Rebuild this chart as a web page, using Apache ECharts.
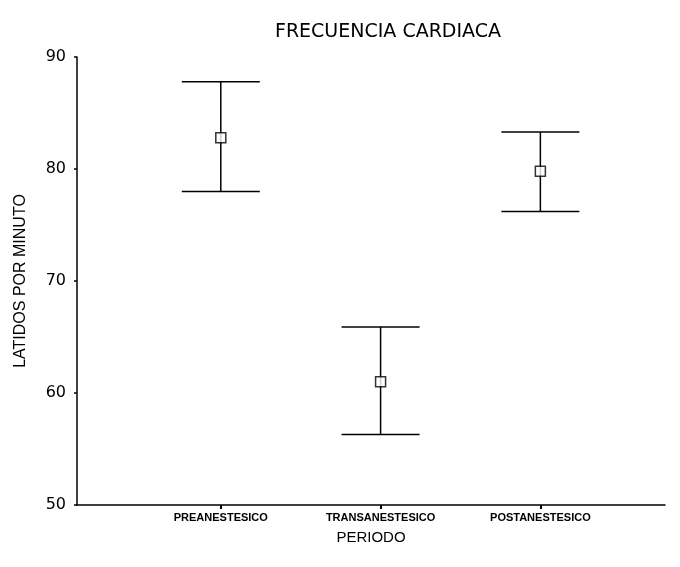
<!DOCTYPE html>
<html>
<head>
<meta charset="utf-8">
<script src="https://cdn.jsdelivr.net/npm/echarts@6/dist/echarts.min.js"></script>
<style>
  html, body { margin: 0; padding: 0; background: #fff; }
  #chart { width: 680px; height: 567px; }
</style>
</head>
<body>
<div id="chart"></div>
<script>
// periodos y valores
const categories = ['PREANESTESICO', 'TRANSANESTESICO', 'POSTANESTESICO']
const meanValues = [82.8, 61.0, 79.8]
const lowerValues = [78.0, 56.3, 76.2]
const upperValues = [87.8, 65.9, 83.3]
const yTicks = [50, 60, 70, 80, 90]

const font = 'Liberation Sans, Arial, sans-serif'
const wideFont = 'DejaVu Sans, sans-serif'

const chart = echarts.init(document.getElementById('chart'))

const errorData = categories.map((c, i) => [i + 1, meanValues[i], lowerValues[i], upperValues[i]])

chart.setOption({
  animation: false,
  title: {
    text: 'FRECUENCIA CARDIACA',
    left: 383,
    top: 18,
    textAlign: 'center',
    textStyle: { fontFamily: wideFont, fontSize: 19, fontWeight: 'normal', color: '#000' }
  },
  grid: { left: 77, right: 15, top: 57, bottom: 62 },
  xAxis: {
    type: 'value',
    min: 0.1,
    max: 3.78,
    name: 'PERIODO',
    nameLocation: 'middle',
    nameGap: 25,
    nameTextStyle: { fontFamily: font, fontSize: 15, color: '#000' },
    axisLine: { lineStyle: { color: '#000', width: 1.5 } },
    axisTick: { customValues: [1, 2, 3], length: 4, lineStyle: { color: '#000', width: 2 } },
    axisLabel: {
      customValues: [1, 2, 3],
      formatter: v => categories[Math.round(v) - 1] || '',
      fontFamily: font,
      fontSize: 11,
      fontWeight: 'bold',
      color: '#000',
      margin: 7
    },
    splitLine: { show: false }
  },
  yAxis: {
    type: 'value',
    min: yTicks[0],
    max: yTicks[yTicks.length - 1],
    interval: 10,
    name: 'LATIDOS POR MINUTO',
    nameLocation: 'middle',
    nameGap: 48,
    nameTextStyle: { fontFamily: font, fontSize: 16, color: '#000' },
    axisLine: { show: true, lineStyle: { color: '#000', width: 1.5 } },
    axisTick: { show: true, length: 3, lineStyle: { color: '#000', width: 1.5 } },
    axisLabel: { fontFamily: wideFont, fontSize: 16, color: '#000', margin: 11 },
    splitLine: { show: false }
  },
  series: [
    {
      type: 'custom',
      data: errorData,
      renderItem(params, api) {
        const x = api.value(0)
        const lo = api.coord([x, api.value(2)])
        const hi = api.coord([x, api.value(3)])
        const half = 39
        const style = { stroke: '#000', lineWidth: 1.5 }
        return {
          type: 'group',
          children: [
            { type: 'line', shape: { x1: lo[0], y1: lo[1], x2: hi[0], y2: hi[1] }, style },
            { type: 'line', shape: { x1: hi[0] - half, y1: hi[1], x2: hi[0] + half, y2: hi[1] }, style },
            { type: 'line', shape: { x1: lo[0] - half, y1: lo[1], x2: lo[0] + half, y2: lo[1] }, style }
          ]
        }
      },
      z: 2
    },
    {
      type: 'scatter',
      data: categories.map((c, i) => [i + 1, meanValues[i]]),
      symbol: 'rect',
      symbolSize: 10,
      itemStyle: { color: '#fff', borderColor: '#000', borderWidth: 1.5 },
      z: 3
    }
  ]
})
</script>
</body>
</html>
